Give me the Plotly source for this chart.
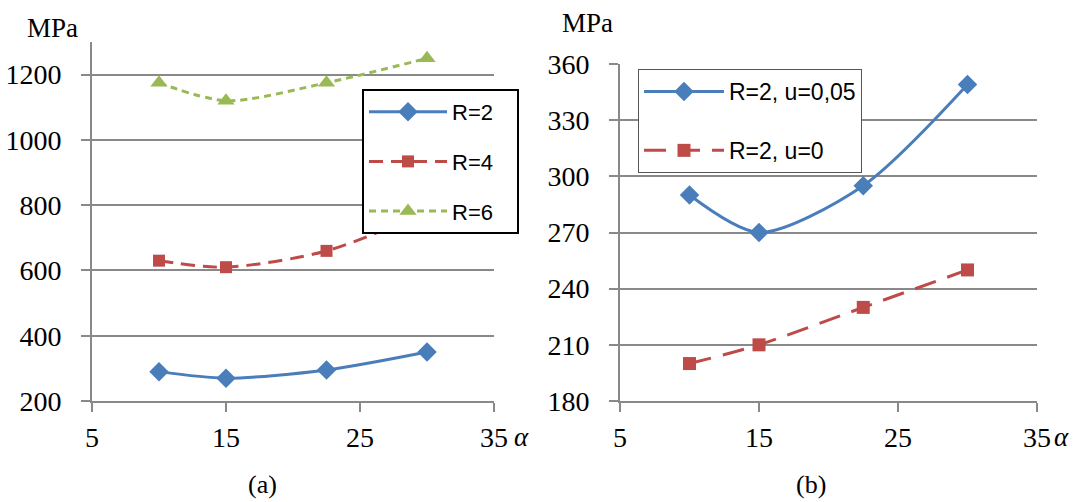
import plotly.graph_objects as go

# Angle values (alpha, degrees)
alpha = [10, 15, 22.5, 30]

# Panel (a): stress for different R
r2 = [290, 270, 295, 350]
r4 = [630, 610, 660, 780]
r6 = [1175, 1120, 1175, 1250]

# Panel (b): R=2 with and without u
r2_u005 = [290, 270, 295, 349]
r2_u0 = [200, 210, 230, 250]

x_ticks = [5, 15, 25, 35]

BLUE = "#4A7EBB"
RED = "#BE4B48"
GREEN = "#98B954"
GRID = "#898989"
SERIF = "Times New Roman, Liberation Serif, DejaVu Serif, serif"
SANS = "Liberation Sans, Arial, sans-serif"

W, H = 1084, 502

fig = go.Figure()

def add(x, y, name, color, dash, symbol, size, xa, ya, legend, group):
    fig.add_trace(go.Scatter(
        x=x, y=y, name=name, mode="lines+markers",
        line=dict(color=color, width=3, dash=dash, shape="spline", smoothing=0.8),
        marker=dict(color=color, symbol=symbol, size=size),
        xaxis=xa, yaxis=ya, legend=legend, legendgroup=group,
    ))

pad = "\u00a0" * 3
add(alpha, r2, "R=2" + pad, BLUE, "solid", "diamond", 15, "x", "y", "legend", "a1")
add(alpha, r4, "R=4" + pad, RED, "14px,8px", "square", 12, "x", "y", "legend", "a2")
add(alpha, r6, "R=6" + pad, GREEN, "7px,5px", "triangle-up", 15, "x", "y", "legend", "a3")
add(alpha, r2_u005, "R=2, u=0,05", BLUE, "solid", "diamond", 15, "x2", "y2", "legend2", "b1")
add(alpha, r2_u0, "R=2, u=0", RED, "22px,12px", "square", 13, "x2", "y2", "legend2", "b2")

def px_x(p):
    return p / W

def px_y(p):
    return 1 - p / H

axis_common = dict(
    showline=True, linecolor=GRID, linewidth=2,
    ticks="outside", ticklen=9, tickcolor=GRID, tickwidth=2,
    tickfont=dict(family=SERIF, size=28, color="black"),
    zeroline=False, automargin=False,
)

fig.update_layout(
    width=W, height=H,
    margin=dict(l=0, r=0, t=0, b=0, autoexpand=False),
    paper_bgcolor="white", plot_bgcolor="white",
    showlegend=True,
    xaxis=dict(domain=[px_x(92), px_x(494)], range=[5, 35], tickvals=x_ticks,
               showgrid=False, anchor="y", ticklabelstandoff=1, **axis_common),
    yaxis=dict(domain=[px_y(401), px_y(42)], range=[200, 1300], dtick=200, tick0=200,
               showgrid=True, gridcolor=GRID, gridwidth=1.5, anchor="x",
               ticklabelstandoff=14, **axis_common),
    xaxis2=dict(domain=[px_x(620), px_x(1037)], range=[5, 35], tickvals=x_ticks,
                showgrid=False, anchor="y2", ticklabelstandoff=1, **axis_common),
    yaxis2=dict(domain=[px_y(401), px_y(64)], range=[180, 360], dtick=30, tick0=180,
                showgrid=True, gridcolor=GRID, gridwidth=1.5, anchor="x2",
                ticklabelstandoff=14, **axis_common),
    legend=dict(
        x=px_x(362), y=px_y(89), xanchor="left", yanchor="top",
        xref="paper", yref="paper",
        bgcolor="white", bordercolor="black", borderwidth=2,
        font=dict(family=SANS, size=22, color="black"),
        itemwidth=78, tracegroupgap=18, traceorder="grouped",
    ),
    legend2=dict(
        x=px_x(638), y=px_y(69), xanchor="left", yanchor="top",
        xref="paper", yref="paper",
        bgcolor="white", bordercolor="#555555", borderwidth=1,
        font=dict(family=SANS, size=23, color="black"),
        itemwidth=80, tracegroupgap=26, traceorder="grouped",
    ),
)

annots = [
    dict(text="MPa", x=px_x(25), y=px_y(28), xanchor="left", yanchor="middle", size=27),
    dict(text="MPa", x=px_x(560), y=px_y(23), xanchor="left", yanchor="middle", size=27),
    dict(text="<i>α</i>", x=px_x(512), y=px_y(437), xanchor="left", yanchor="middle", size=27),
    dict(text="<i>α</i>", x=px_x(1052), y=px_y(437), xanchor="left", yanchor="middle", size=27),
    dict(text="(a)", x=px_x(262), y=px_y(501), xanchor="center", yanchor="bottom", size=26),
    dict(text="(b)", x=px_x(811), y=px_y(501), xanchor="center", yanchor="bottom", size=26),
]
for a in annots:
    fig.add_annotation(text=a["text"], x=a["x"], y=a["y"], xref="paper", yref="paper",
                       xanchor=a["xanchor"], yanchor=a["yanchor"], showarrow=False,
                       font=dict(family=SERIF, size=a["size"], color="black"))

fig.write_html("out.html")
